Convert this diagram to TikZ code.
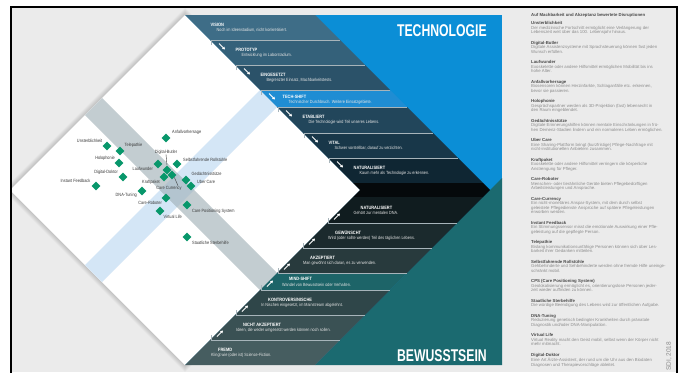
\documentclass[tikz,border=0pt]{standalone}
\usepackage{fontspec}
\setmainfont{Liberation Sans}
\newfontfamily\narrowfont{Liberation Sans}[FakeStretch=0.84]
\newfontfamily\bannerfont{Liberation Sans}[FakeStretch=0.72]
\usetikzlibrary{shapes.geometric,arrows.meta}

\definecolor{pagegray}{HTML}{EBEBEB}
\definecolor{techblue}{HTML}{0B8ED6}
\definecolor{mindteal}{HTML}{1B6A70}
\definecolor{gemgreen}{HTML}{08976B}
\definecolor{stripeblue}{HTML}{D4E6F6}
\definecolor{stripegray}{HTML}{C3CDD1}
\definecolor{stripemix}{HTML}{B3C4CF}
\definecolor{sepline}{HTML}{A7B4BA}
\definecolor{labelgray}{HTML}{3A3A3A}
\definecolor{listtitle}{HTML}{4A4A4A}
\definecolor{listtext}{HTML}{8C8C8C}
\definecolor{upA}{HTML}{3E6D87}
\definecolor{upB}{HTML}{34617A}
\definecolor{upC}{HTML}{2B5269}
\definecolor{upS}{HTML}{1F8DD3}
\definecolor{upD}{HTML}{22465B}
\definecolor{upE}{HTML}{183749}
\definecolor{upF}{HTML}{0F2633}
\definecolor{core}{HTML}{05090B}
\definecolor{loA}{HTML}{101C1F}
\definecolor{loB}{HTML}{1B2A2D}
\definecolor{loC}{HTML}{283A3D}
\definecolor{loS}{HTML}{1D6468}
\definecolor{loD}{HTML}{2F4649}
\definecolor{loE}{HTML}{3A5154}
\definecolor{loF}{HTML}{465D60}

\tikzset{
  steptitle/.style={text=white, font=\narrowfont\bfseries\fontsize{4.7}{5}\selectfont, inner sep=0pt, anchor=west},
  stepdesc/.style={text=white!90!black, font=\narrowfont\fontsize{4.5}{5}\selectfont, inner sep=0pt, anchor=west},
  sepstroke/.style={draw=sepline, line width=0.7pt},
  stepmark/.style={draw=white, line width=0.9pt, -{Triangle[length=2.6pt,width=3pt]}},
  gem/.style={shape=diamond, fill=gemgreen, minimum width=9pt, minimum height=9pt, inner sep=0pt},
  gemlabel/.style={text=labelgray, font=\narrowfont\fontsize{4.6}{5}\selectfont, inner sep=0pt},
  leader/.style={draw=labelgray, line width=0.4pt},
  entry/.style={anchor=north west, align=left, inner sep=0pt, text=listtext, font=\fontsize{4.3}{4.5}\selectfont},
}

% technology step: name, top, bottom, colour, title, text, title offset
\newcommand\upstep[7]{%
  \fill[#4] ({170+#2},#2) -- ({300+#2},#2) -- ({300+#3},#3) -- ({170+#3},#3) -- cycle;
  \node[steptitle] (#1-t) at ({170+#2+#7+16},{#2+#7}) {#5};
  \node[stepdesc] (#1-d) at ({170+#2+#7+22},{#2+#7+6}) {#6};
}
% awareness step: name, top, bottom, colour, title, text, title offset
\newcommand\lowstep[7]{%
  \fill[#4] ({550-#2},#2) -- ({680-#2},#2) -- ({680-#3},#3) -- ({550-#3},#3) -- cycle;
  \node[steptitle] (#1-t) at ({550-(#2+#7)+18},{#2+#7}) {#5};
  \node[stepdesc] (#1-d) at ({550-(#2+#7)+11},{#2+#7+5.5}) {#6};
}
% legend entry: name, title centre, title, lines
\newcommand\listentry[4]{%
  \node[entry] (#1) at (531,{#2-2.4}) {{\color{listtitle}\bfseries #3}\\#4};
}

\begin{document}
\begin{tikzpicture}[x=1pt,y=-1pt]
\useasboundingbox (0,0) rectangle (682,372);
\fill[white] (0,0) rectangle (682,372);
\fill[pagegray] (11,7) rectangle (677,372);

\begin{scope}
\clip (11,7) rectangle (677,372);

% coloured panel behind the steps
\fill[techblue] (185,15) rectangle (502,365);
\fill[mindteal] (502,178) -- (502,365) -- (315,365) -- cycle;

% soft shadow of the diamond
\foreach \k in {1,...,7}
  \fill[black, opacity=0.022] ({10-\k},190) -- (185,{15-\k}) -- ({360+\k},190) -- (185,{365+\k}) -- cycle;

% white diamond field
\fill[white] (10,190) -- (185,15) -- (360,190) -- (185,365) -- cycle;

% shift stripes across the field
\begin{scope}
  \clip (10,190) -- (185,15) -- (360,190) -- (185,365) -- cycle;
  \fill[stripeblue] (260,90) -- (277,107) -- (102,282) -- (85,265) -- cycle;
  \fill[stripegray] (277,273) -- (260,290) -- (85,115) -- (102,98) -- cycle;
  \clip (260,90) -- (277,107) -- (102,282) -- (85,265) -- cycle;
  \fill[stripemix] (277,273) -- (260,290) -- (85,115) -- (102,98) -- cycle;
\end{scope}

% technology steps
\upstep{vision}{15}{40}{upA}{VISION}{Noch im Ideenstadium, nicht konkretisiert.}{9.5}
\upstep{prototyp}{40}{65}{upB}{PROTOTYP}{Entwicklung im Laborstadium.}{9.5}
\upstep{eingesetzt}{65}{90}{upC}{EINGESETZT}{Begrenzter Einsatz, Machbarkeitstests.}{9.5}
\upstep{techshift}{90}{107}{upS}{TECH-SHIFT}{Technischer Durchbruch. Weitere Einsatzgebiete.}{6.5}
\upstep{etabliert}{107}{133}{upD}{ETABLIERT}{Die Technologie wird Teil unseres Lebens.}{9.5}
\upstep{vital}{133}{158}{upE}{VITAL}{Schwer vorstellbar, darauf zu verzichten.}{9.5}
\upstep{naturtech}{158}{183}{upF}{NATURALISIERT}{Kaum mehr als Technologie zu erkennen.}{9.5}

% central band
\fill[core] (353,183) -- (483,183) -- (490,190) -- (483,197) -- (353,197) -- (360,190) -- cycle;

% awareness steps
\lowstep{naturmind}{197}{223}{loA}{NATURALISIERT}{Gehört zur mentalen DNA.}{10.5}
\lowstep{gewuenscht}{223}{248}{loB}{GEWÜNSCHT}{Wird (oder sollte werden) Teil des täglichen Lebens.}{10}
\lowstep{akzeptiert}{248}{273}{loC}{AKZEPTIERT}{Man gewöhnt sich daran, es zu verwenden.}{10}
\lowstep{mindshift}{273}{290}{loS}{MIND-SHIFT}{Wandel von Bewusstsein oder Verhalten.}{6}
\lowstep{kontrovers}{290}{315}{loD}{KONTROVERS/NISCHE}{In Nischen eingesetzt, im Mainstream abgelehnt.}{10}
\lowstep{nichtakz}{315}{340}{loE}{NICHT AKZEPTIERT}{Ideen, die weder umgesetzt werden können noch sollen.}{10}
\lowstep{fremd}{340}{365}{loF}{FREMD}{Klingt wie (oder ist) Science-Fiction.}{10}

% step edges and arrows
\foreach \t in {40,65,90,107,133,158} {
  \draw[sepstroke] ({171+\t},{\t+5}) -- ({171+\t},\t) -- ({300+\t},\t);
  \draw[stepmark] ({179+\t},{\t+3.5}) -- ({185+\t},{\t+9.5});
}
\foreach \b in {223,248,273,290,315,340} {
  \draw[sepstroke] ({551-\b},{\b-5}) -- ({551-\b},\b) -- ({680-\b},\b);
  \draw[stepmark] ({557-\b},{\b-3.5}) -- ({563-\b},{\b-9.5});
}

% axis headings
\node[anchor=base east, inner sep=0pt, text=white, font=\bannerfont\bfseries\fontsize{17}{17}\selectfont] (hd-tech) at (487,36) {TECHNOLOGIE};
\node[anchor=base east, inner sep=0pt, text=white, font=\bannerfont\bfseries\fontsize{17}{17}\selectfont] (hd-mind) at (487,361) {BEWUSSTSEIN};

% disruptions
\node[gem] (g-anfall) at (166,138) {};
\node[gemlabel, anchor=west] (l-anfall) at (172,132.5) {Anfallvorhersage};
\node[gem] (g-unsterb) at (107,146) {};
\node[gemlabel, anchor=east] (l-unsterb) at (102.5,141) {Unsterblichkeit};
\node[gem] (g-tele) at (120,151) {};
\node[gemlabel, anchor=west] (l-tele) at (124.5,145.5) {Telepathie};
\node[gem] (g-holo) at (119,163) {};
\node[gemlabel, anchor=east] (l-holo) at (115,158.5) {Holophonie};
\node[gem] (g-selbst) at (177,164) {};
\node[gemlabel, anchor=west] (l-selbst) at (183,160) {Selbstfahrende Rollstühle};
\node[gem] (g-lauf) at (158,164) {};
\node[gemlabel, anchor=east] (l-lauf) at (153,169) {Laufwunder};
\node[gem] (g-doktor) at (123,177) {};
\node[gemlabel, anchor=east] (l-doktor) at (118,172.5) {Digital-Doktor};
\node[gem] (g-instant) at (96,186) {};
\node[gemlabel, anchor=east] (l-instant) at (90.5,181) {Instant Feedback};
\node[gem] (g-gedae) at (186,180) {};
\node[gemlabel, anchor=west] (l-gedae) at (191.5,174) {Gedächtnisstütze};
\node[gem] (g-uber) at (191,186) {};
\node[gemlabel, anchor=west] (l-uber) at (197,182) {Uber Care};
\node[gem] (g-kraft) at (164,177) {};
\node[gemlabel, anchor=east] (l-kraft) at (160,182.5) {Kraftpaket};
\node[gem] (g-butler) at (167,170) {};
\node[gemlabel] (l-butler) at (166,152) {Digital-Butler};
\node[gem] (g-currency) at (172,175) {};
\node[gemlabel] (l-currency) at (169,188) {Care Currency};
\node[gem] (g-dna) at (142,191) {};
\node[gemlabel, anchor=east] (l-dna) at (137,195.5) {DNA-Tuning};
\node[gem] (g-roboter) at (166,198) {};
\node[gemlabel, anchor=east] (l-roboter) at (162,203) {Care-Roboter};
\node[gem] (g-cps) at (187,205) {};
\node[gemlabel, anchor=west] (l-cps) at (192,211) {Care Positioning System};
\node[gem] (g-virtual) at (160,211) {};
\node[gemlabel, anchor=west] (l-virtual) at (163.5,217) {Virtual Life};
\node[gem] (g-staat) at (187,237) {};
\node[gemlabel, anchor=west] (l-staat) at (192,243) {Staatliche Sterbehilfe};
\draw[leader] (l-butler.south) -- (g-butler.north);
\draw[leader] (g-currency.south east) -- ([xshift=9pt]l-currency.north);

% legend column
\node[anchor=base west, inner sep=0pt, text=listtitle, font=\bfseries\fontsize{4.3}{4.5}\selectfont] (lst-head) at (531,16.5) {Auf Machbarkeit und Akzeptanz bewertete Disruptionen};
\listentry{lst-unsterb}{24}{Unsterblichkeit}{Der medizinische Fortschritt ermöglicht eine Verlängerung der\\Lebenszeit weit über das 100. Lebensjahr hinaus.}
\listentry{lst-butler}{43.5}{Digital-Butler}{Digitale Assistenzsysteme mit Sprachsteuerung können fast jeden\\Wunsch erfüllen.}
\listentry{lst-lauf}{63}{Laufwunder}{Exoskelette oder andere Hilfsmittel ermöglichen Mobilität bis ins\\hohe Alter.}
\listentry{lst-anfall}{82.5}{Anfallvorhersage}{Biosensoren können Herzinfarkte, Schlaganfälle etc. erkennen,\\bevor sie passieren.}
\listentry{lst-holo}{102}{Holophonie}{Gesprächspartner werden als 3D-Projektion (fast) lebensecht in\\den Raum eingeblendet.}
\listentry{lst-gedae}{121.5}{Gedächtnisstütze}{Digitale Erinnerungshilfen können mentale Einschränkungen in frü-\\hen Demenz-Stadien lindern und ein normaleres Leben ermöglichen.}
\listentry{lst-uber}{141}{Uber Care}{Eine Sharing-Plattform bringt (kurzfristige) Pflege-Nachfrage mit\\nicht-institutionellen Anbietern zusammen.}
\listentry{lst-kraft}{160.5}{Kraftpaket}{Exoskelette oder andere Hilfsmittel verringern die körperliche\\Anstrengung für Pfleger.}
\listentry{lst-roboter}{180}{Care-Roboter}{Menschen- oder tierähnliche Geräte bieten Pflegebedürftigen\\Arbeitsleistungen und Ansprache.}
\listentry{lst-currency}{199.5}{Care-Currency}{Ein nicht-monetäres Anspar-System, mit dem durch selbst\\geleistete Pflegedienste Ansprüche auf spätere Pflegeleistungen\\erworben werden.}
\listentry{lst-instant}{223.5}{Instant Feedback}{Ein Stimmungssensor misst die emotionale Auswirkung einer Pfle-\\geleistung auf die gepflegte Person.}
\listentry{lst-tele}{243}{Telepathie}{Bislang kommunikationsunfähige Personen können sich über Les-\\barkeit ihrer Gedanken mitteilen.}
\listentry{lst-selbst}{262.5}{Selbstfahrende Rollstühle}{Gehbehinderte und Sehbehinderte werden ohne fremde Hilfe uneinge-\\schränkt mobil.}
\listentry{lst-cps}{282}{CPS (Care Positioning System)}{Geolokalisierung ermöglicht es, orientierungslose Personen jeder-\\zeit wieder auffinden zu können.}
\listentry{lst-staat}{301.5}{Staatliche Sterbehilfe}{Die würdige Beendigung des Lebens wird zur öffentlichen Aufgabe.}
\listentry{lst-dna}{316.5}{DNA-Tuning}{Reduzierung genetisch bedingter Krankheiten durch pränatale\\Diagnostik und/oder DNA-Manipulation.}
\listentry{lst-virtual}{336}{Virtual Life}{Virtual Reality macht den Geist mobil, selbst wenn der Körper nicht\\mehr mitmacht.}
\listentry{lst-doktor}{355.5}{Digital-Doktor}{Eine Art Ärzte-Assistent, der rund um die Uhr aus den Biodaten\\Diagnosen und Therapievorschläge ableitet.}

% source note
\node[anchor=west, rotate=90, inner sep=0pt, text=listtext, font=\fontsize{6.5}{7}\selectfont] (src) at (669,371) {SDI, 2018};
\end{scope}

% page frame
\draw[black, line width=1.6pt] (11,380) -- (11,7) -- (677,7) -- (677,380);
\end{tikzpicture}
\end{document}
